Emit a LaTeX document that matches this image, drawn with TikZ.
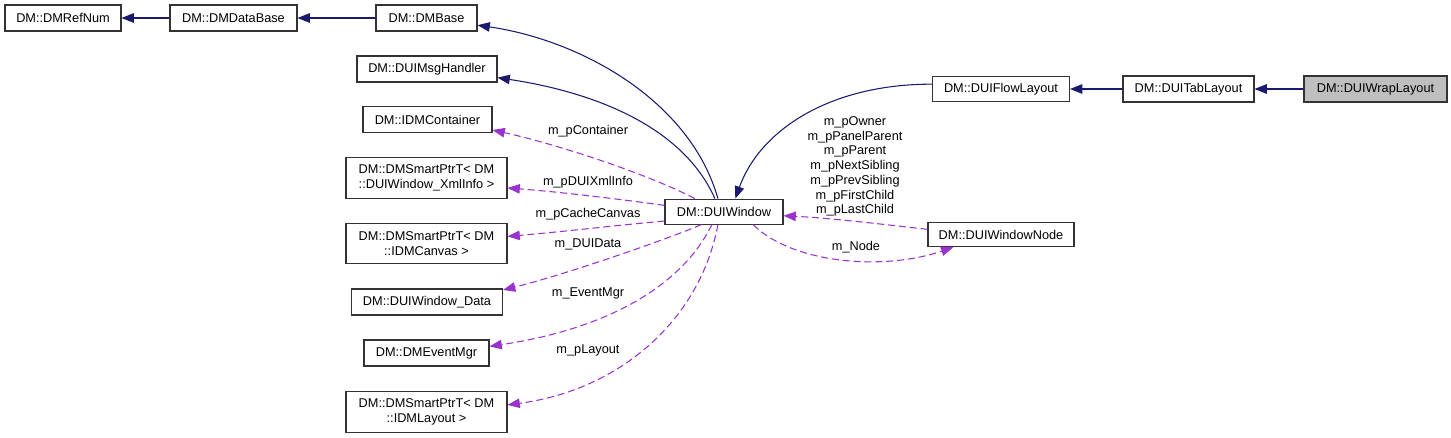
\documentclass[tikz,border=0pt]{standalone}
\usepackage{fontspec}
\setsansfont{Liberation Sans}
\usetikzlibrary{arrows.meta}
\definecolor{inhblue}{HTML}{191970}
\definecolor{usepurple}{HTML}{9A32CD}

\begin{document}
\begin{tikzpicture}[x=0.02cm,y=-0.02cm,font=\sffamily\fontsize{7.25}{8.4}\selectfont,
  cls/.style={draw=black!80,line width=0.6pt,inner sep=0pt,minimum height=0.52cm,align=center},
  twoline/.style={cls,minimum width=3.22cm,minimum height=0.81cm},
  inh/.style={draw=inhblue,line width=0.6pt,-{Triangle[length=7pt,width=5.4pt]}},
  uses/.style={draw=usepurple,line width=0.6pt,dash pattern=on 4pt off 2.2pt,-{Triangle[length=7pt,width=5.4pt]}},
  lbl/.style={inner sep=0pt,align=center}]
\useasboundingbox (0,0) rectangle (1451,438);
\node[cls,minimum width=2.32cm] (refnum) at (63,18) {DM::DMRefNum};
\node[cls,minimum width=2.54cm] (database) at (233.5,18) {DM::DMDataBase};
\node[cls,minimum width=2.02cm] (dmbase) at (426.5,18) {DM::DMBase};
\node[cls,minimum width=2.8cm] (msghandler) at (427,69) {DM::DUIMsgHandler};
\node[cls,minimum width=2.58cm] (container) at (427.5,119.7) {DM::IDMContainer};
\node[twoline] (xmlinfo) at (426.5,178) {DM::DMSmartPtrT< DM\\::DUIWindow\_XmlInfo >};
\node[twoline] (canvas) at (426.5,243.5) {DM::DMSmartPtrT< DM\\::IDMCanvas >};
\node[cls,minimum width=3.02cm] (windata) at (427,302) {DM::DUIWindow\_Data};
\node[cls,minimum width=2.5cm] (eventmgr) at (426.5,353) {DM::DMEventMgr};
\node[twoline] (layout) at (426.5,412) {DM::DMSmartPtrT< DM\\::IDMLayout >};
\node[cls,minimum width=2.36cm,minimum height=0.5cm] (win) at (724,211.6) {DM::DUIWindow};
\node[cls,minimum width=2.74cm,minimum height=0.5cm] (flow) at (1001,89) {DM::DUIFlowLayout};
\node[cls,minimum width=2.62cm] (tab) at (1188.5,89) {DM::DUITabLayout};
\node[cls,minimum width=2.86cm,fill=black!25] (wrap) at (1375.5,89) {DM::DUIWrapLayout};
\node[cls,minimum width=2.92cm,minimum height=0.49cm] (winnode) at (1001,234.5) {DM::DUIWindowNode};
\draw[inh] (database.west) -- (refnum.east);
\draw[inh] (dmbase.west) -- (database.east);
\draw[inh] (tab.west) -- (flow.east);
\draw[inh] (wrap.west) -- (tab.east);
\draw[inh] (win.115) .. controls (690,100) and (580,40) .. (dmbase.352);
\draw[inh] (win.125) .. controls (680,120) and (580,90) .. (msghandler.353);
\draw[inh] (flow.176) .. controls (830,84) and (760,130) .. (win.49);
\draw[uses] (win.156) .. controls (650,175) and (560,145) .. (container.351);
\draw[uses] (win.174) .. controls (610,198) and (560,192) .. (xmlinfo.353);
\draw[uses] (win.189) .. controls (610,226) and (560,232) .. (canvas.5);
\draw[uses] (win.210) .. controls (660,242) and (560,276) .. (windata.9);
\draw[uses] (win.227) .. controls (680,290) and (600,330) .. (eventmgr.6);
\draw[uses] (win.245) .. controls (700,320) and (620,390) .. (layout.5);
\draw[uses] (winnode.176) .. controls (880,224) and (830,218) .. (win.356);
\draw[uses] (win.336) .. controls (790,262) and (880,272) .. (winnode.195);
\node[lbl] (lcontainer) at (588,131) {m\_pContainer};
\node[lbl] (lxmlinfo) at (588,182) {m\_pDUIXmlInfo};
\node[lbl] (lcanvas) at (588,214) {m\_pCacheCanvas};
\node[lbl] (ldata) at (588,244) {m\_DUIData};
\node[lbl] (levent) at (588,293) {m\_EventMgr};
\node[lbl] (llayout) at (588,350.5) {m\_pLayout};
\node[lbl] (lowner) at (855,166.5) {m\_pOwner\\m\_pPanelParent\\m\_pParent\\m\_pNextSibling\\m\_pPrevSibling\\m\_pFirstChild\\m\_pLastChild};
\node[lbl] (lnode) at (856,247.5) {m\_Node};
\end{tikzpicture}
\end{document}
